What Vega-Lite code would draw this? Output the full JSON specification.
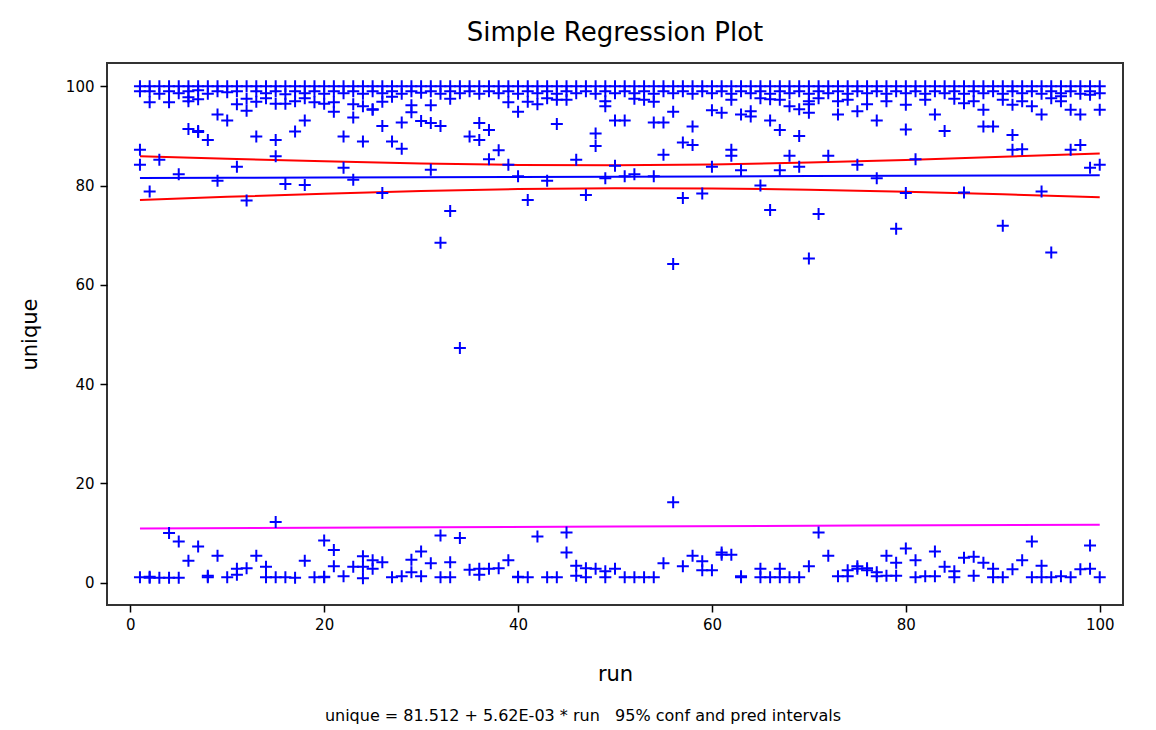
{
"$schema": "https://vega.github.io/schema/vega-lite/v6.json",
"width": 1016, "height": 542,
"autosize": "none",
"padding": {"left": 107, "top": 63, "right": 33, "bottom": 125},
"background": "white",
"title": {"text": "Simple Regression Plot", "font": "DejaVu Sans", "fontSize": 26, "fontWeight": "normal", "color": "black", "anchor": "middle", "frame": "group", "offset": 17},
"config": {
  "view": {"stroke": "#333333", "strokeWidth": 2},
  "axis": {"domain": false, "grid": false, "tickSize": 7, "tickColor": "black", "tickWidth": 1.5, "labelFont": "DejaVu Sans", "labelFontSize": 15, "labelColor": "black", "titleFont": "DejaVu Sans", "titleFontSize": 21, "titleFontWeight": "normal", "titleColor": "black", "labelFlush": false}
},
"datasets": {
  "lines": [
    {"r":1,"v":81.52,"s":"fit"},{"r":10,"v":81.57,"s":"fit"},{"r":20,"v":81.62,"s":"fit"},{"r":30,"v":81.68,"s":"fit"},{"r":40,"v":81.74,"s":"fit"},{"r":50,"v":81.79,"s":"fit"},{"r":60,"v":81.85,"s":"fit"},{"r":70,"v":81.91,"s":"fit"},{"r":80,"v":81.96,"s":"fit"},{"r":90,"v":82.02,"s":"fit"},{"r":100,"v":82.07,"s":"fit"},
    {"r":1,"v":85.92,"s":"ucl"},{"r":10,"v":85.41,"s":"ucl"},{"r":20,"v":84.88,"s":"ucl"},{"r":30,"v":84.46,"s":"ucl"},{"r":40,"v":84.17,"s":"ucl"},{"r":50,"v":84.09,"s":"ucl"},{"r":60,"v":84.26,"s":"ucl"},{"r":70,"v":84.64,"s":"ucl"},{"r":80,"v":85.17,"s":"ucl"},{"r":90,"v":85.80,"s":"ucl"},{"r":100,"v":86.47,"s":"ucl"},
    {"r":1,"v":77.12,"s":"lcl"},{"r":10,"v":77.73,"s":"lcl"},{"r":20,"v":78.36,"s":"lcl"},{"r":30,"v":78.90,"s":"lcl"},{"r":40,"v":79.31,"s":"lcl"},{"r":50,"v":79.49,"s":"lcl"},{"r":60,"v":79.44,"s":"lcl"},{"r":70,"v":79.18,"s":"lcl"},{"r":80,"v":78.75,"s":"lcl"},{"r":90,"v":78.24,"s":"lcl"},{"r":100,"v":77.67,"s":"lcl"},
    {"r":1,"v":10.9,"s":"lpi"},{"r":25,"v":11.1,"s":"lpi"},{"r":50,"v":11.3,"s":"lpi"},{"r":75,"v":11.5,"s":"lpi"},{"r":100,"v":11.65,"s":"lpi"}
  ],
  "pts": [
    {"r":1,"u":100},{"r":1,"u":99},{"r":1,"u":87.2},{"r":1,"u":84.2},{"r":1,"u":1.1},
    {"r":2,"u":100},{"r":2,"u":99},{"r":2,"u":96.8},{"r":2,"u":78.8},{"r":2,"u":1},{"r":2,"u":1.2},
    {"r":3,"u":100},{"r":3,"u":98.5},{"r":3,"u":85.2},{"r":3,"u":1},
    {"r":4,"u":100},{"r":4,"u":99},{"r":4,"u":96.8},{"r":4,"u":10},{"r":4,"u":1},
    {"r":5,"u":100},{"r":5,"u":98.6},{"r":5,"u":82.3},{"r":5,"u":8.3},{"r":5,"u":1},
    {"r":6,"u":100},{"r":6,"u":99},{"r":6,"u":97},{"r":6,"u":97.8},{"r":6,"u":91.4},{"r":6,"u":4.4},
    {"r":7,"u":100},{"r":7,"u":99.2},{"r":7,"u":97.4},{"r":7,"u":91},{"r":7,"u":90.8},{"r":7,"u":7.3},
    {"r":8,"u":100},{"r":8,"u":98.5},{"r":8,"u":89.2},{"r":8,"u":1.1},{"r":8,"u":1.4},
    {"r":9,"u":100},{"r":9,"u":99},{"r":9,"u":94.3},{"r":9,"u":81},{"r":9,"u":5.4},
    {"r":10,"u":100},{"r":10,"u":98.8},{"r":10,"u":93.1},{"r":10,"u":1.1},
    {"r":11,"u":100},{"r":11,"u":99},{"r":11,"u":96.4},{"r":11,"u":83.8},{"r":11,"u":1.6},{"r":11,"u":2.8},
    {"r":12,"u":100},{"r":12,"u":97.5},{"r":12,"u":95.1},{"r":12,"u":77},{"r":12,"u":2.9},
    {"r":13,"u":100},{"r":13,"u":99},{"r":13,"u":96.9},{"r":13,"u":89.9},{"r":13,"u":5.4},
    {"r":14,"u":100},{"r":14,"u":98.6},{"r":14,"u":97.6},{"r":14,"u":1.1},{"r":14,"u":3.2},
    {"r":15,"u":100},{"r":15,"u":99},{"r":15,"u":96.5},{"r":15,"u":89.2},{"r":15,"u":85.9},{"r":15,"u":12.2},{"r":15,"u":1.1},
    {"r":16,"u":100},{"r":16,"u":98.4},{"r":16,"u":96.5},{"r":16,"u":80.3},{"r":16,"u":1.1},
    {"r":17,"u":100},{"r":17,"u":99},{"r":17,"u":97},{"r":17,"u":90.9},{"r":17,"u":1},
    {"r":18,"u":100},{"r":18,"u":98.6},{"r":18,"u":97.6},{"r":18,"u":93.1},{"r":18,"u":80.1},{"r":18,"u":4.4},
    {"r":19,"u":100},{"r":19,"u":99},{"r":19,"u":96.8},{"r":19,"u":1.1},
    {"r":20,"u":100},{"r":20,"u":98.5},{"r":20,"u":96.5},{"r":20,"u":8.5},{"r":20,"u":1.1},{"r":20,"u":1.2},
    {"r":21,"u":100},{"r":21,"u":99},{"r":21,"u":96.8},{"r":21,"u":94.9},{"r":21,"u":6.6},{"r":21,"u":3.3},
    {"r":22,"u":100},{"r":22,"u":98.6},{"r":22,"u":89.9},{"r":22,"u":83.6},{"r":22,"u":1.3},
    {"r":23,"u":100},{"r":23,"u":99},{"r":23,"u":96.4},{"r":23,"u":93.7},{"r":23,"u":81.2},{"r":23,"u":3.2},
    {"r":24,"u":100},{"r":24,"u":98.5},{"r":24,"u":96},{"r":24,"u":88.9},{"r":24,"u":5.3},{"r":24,"u":3.2},{"r":24,"u":0.9},
    {"r":25,"u":100},{"r":25,"u":99},{"r":25,"u":95.4},{"r":25,"u":95.3},{"r":25,"u":4.5},{"r":25,"u":2.8},
    {"r":26,"u":100},{"r":26,"u":98.6},{"r":26,"u":96.9},{"r":26,"u":92},{"r":26,"u":78.5},{"r":26,"u":4.1},
    {"r":27,"u":100},{"r":27,"u":99},{"r":27,"u":97.9},{"r":27,"u":88.9},{"r":27,"u":1.1},
    {"r":28,"u":100},{"r":28,"u":98.5},{"r":28,"u":92.7},{"r":28,"u":87.4},{"r":28,"u":1.3},
    {"r":29,"u":100},{"r":29,"u":99},{"r":29,"u":96.2},{"r":29,"u":94.8},{"r":29,"u":4.6},{"r":29,"u":2.1},
    {"r":30,"u":100},{"r":30,"u":98.7},{"r":30,"u":93},{"r":30,"u":6.3},{"r":30,"u":1.3},
    {"r":31,"u":100},{"r":31,"u":99},{"r":31,"u":96.2},{"r":31,"u":92.6},{"r":31,"u":83.2},{"r":31,"u":3.9},
    {"r":32,"u":100},{"r":32,"u":98.5},{"r":32,"u":92},{"r":32,"u":68.5},{"r":32,"u":9.5},{"r":32,"u":1.1},
    {"r":33,"u":100},{"r":33,"u":99},{"r":33,"u":97.5},{"r":33,"u":74.9},{"r":33,"u":4.1},{"r":33,"u":1.1},
    {"r":34,"u":100},{"r":34,"u":98.6},{"r":34,"u":47.3},{"r":34,"u":9},
    {"r":35,"u":100},{"r":35,"u":99},{"r":35,"u":89.9},{"r":35,"u":2.6},
    {"r":36,"u":100},{"r":36,"u":98.5},{"r":36,"u":92.6},{"r":36,"u":89.2},{"r":36,"u":2.8},{"r":36,"u":1.6},
    {"r":37,"u":100},{"r":37,"u":99},{"r":37,"u":91.2},{"r":37,"u":85.3},{"r":37,"u":2.8},
    {"r":38,"u":100},{"r":38,"u":98.6},{"r":38,"u":87.1},{"r":38,"u":2.9},
    {"r":39,"u":100},{"r":39,"u":99},{"r":39,"u":96.8},{"r":39,"u":84.2},{"r":39,"u":4.5},
    {"r":40,"u":100},{"r":40,"u":98.5},{"r":40,"u":94.9},{"r":40,"u":81.9},{"r":40,"u":1.1},{"r":40,"u":1.2},
    {"r":41,"u":100},{"r":41,"u":99},{"r":41,"u":96.9},{"r":41,"u":77.1},{"r":41,"u":1.1},
    {"r":42,"u":100},{"r":42,"u":98.6},{"r":42,"u":96.4},{"r":42,"u":9.3},
    {"r":43,"u":100},{"r":43,"u":99},{"r":43,"u":97.6},{"r":43,"u":81},{"r":43,"u":1.1},
    {"r":44,"u":100},{"r":44,"u":98.5},{"r":44,"u":97.3},{"r":44,"u":92.4},{"r":44,"u":1.1},
    {"r":45,"u":100},{"r":45,"u":99},{"r":45,"u":97.3},{"r":45,"u":10.1},{"r":45,"u":6.1},
    {"r":46,"u":100},{"r":46,"u":98.6},{"r":46,"u":85.2},{"r":46,"u":3.4},{"r":46,"u":1.4},
    {"r":47,"u":100},{"r":47,"u":99},{"r":47,"u":78.1},{"r":47,"u":2.9},{"r":47,"u":1.1},
    {"r":48,"u":100},{"r":48,"u":98.5},{"r":48,"u":90.5},{"r":48,"u":88},{"r":48,"u":2.8},
    {"r":49,"u":100},{"r":49,"u":99},{"r":49,"u":97},{"r":49,"u":96},{"r":49,"u":81.5},{"r":49,"u":2.3},{"r":49,"u":1.1},
    {"r":50,"u":100},{"r":50,"u":98.6},{"r":50,"u":93.1},{"r":50,"u":84},{"r":50,"u":2.8},
    {"r":51,"u":100},{"r":51,"u":99},{"r":51,"u":93.1},{"r":51,"u":81.9},{"r":51,"u":1.1},
    {"r":52,"u":100},{"r":52,"u":98.6},{"r":52,"u":97.5},{"r":52,"u":82.3},{"r":52,"u":1.1},
    {"r":53,"u":100},{"r":53,"u":99},{"r":53,"u":97.3},{"r":53,"u":1.1},
    {"r":54,"u":100},{"r":54,"u":98.5},{"r":54,"u":96.9},{"r":54,"u":92.7},{"r":54,"u":81.9},{"r":54,"u":1.1},
    {"r":55,"u":100},{"r":55,"u":99},{"r":55,"u":92.7},{"r":55,"u":86.2},{"r":55,"u":3.9},
    {"r":56,"u":100},{"r":56,"u":98.6},{"r":56,"u":94.9},{"r":56,"u":64.2},{"r":56,"u":16.2},
    {"r":57,"u":100},{"r":57,"u":99},{"r":57,"u":88.7},{"r":57,"u":77.5},{"r":57,"u":3.3},
    {"r":58,"u":100},{"r":58,"u":98.5},{"r":58,"u":91.9},{"r":58,"u":88.2},{"r":58,"u":5.4},
    {"r":59,"u":100},{"r":59,"u":99},{"r":59,"u":78.4},{"r":59,"u":4.3},{"r":59,"u":2.5},
    {"r":60,"u":100},{"r":60,"u":98.6},{"r":60,"u":95.2},{"r":60,"u":83.8},{"r":60,"u":2.5},
    {"r":61,"u":100},{"r":61,"u":99},{"r":61,"u":94.7},{"r":61,"u":5.6},{"r":61,"u":6.1},
    {"r":62,"u":100},{"r":62,"u":98.5},{"r":62,"u":97.3},{"r":62,"u":87.2},{"r":62,"u":86},{"r":62,"u":5.6},
    {"r":63,"u":100},{"r":63,"u":99},{"r":63,"u":94.3},{"r":63,"u":83.1},{"r":63,"u":1.3},{"r":63,"u":1.1},
    {"r":64,"u":100},{"r":64,"u":98.6},{"r":64,"u":95},{"r":64,"u":93.9},
    {"r":65,"u":100},{"r":65,"u":99},{"r":65,"u":97.6},{"r":65,"u":80},{"r":65,"u":2.8},{"r":65,"u":1.1},
    {"r":66,"u":100},{"r":66,"u":98.5},{"r":66,"u":97.4},{"r":66,"u":93.1},{"r":66,"u":75.1},{"r":66,"u":1.1},
    {"r":67,"u":100},{"r":67,"u":99},{"r":67,"u":97.3},{"r":67,"u":91.2},{"r":67,"u":83.1},{"r":67,"u":2.8},{"r":67,"u":1.1},
    {"r":68,"u":100},{"r":68,"u":98.6},{"r":68,"u":96},{"r":68,"u":86},{"r":68,"u":1.1},
    {"r":69,"u":100},{"r":69,"u":99},{"r":69,"u":95.4},{"r":69,"u":90},{"r":69,"u":83.8},{"r":69,"u":1.1},
    {"r":70,"u":100},{"r":70,"u":98.5},{"r":70,"u":97},{"r":70,"u":96.4},{"r":70,"u":94.7},{"r":70,"u":65.3},{"r":70,"u":3.3},
    {"r":71,"u":100},{"r":71,"u":99},{"r":71,"u":97.6},{"r":71,"u":74.3},{"r":71,"u":10.1},
    {"r":72,"u":100},{"r":72,"u":98.6},{"r":72,"u":86},{"r":72,"u":5.4},
    {"r":73,"u":100},{"r":73,"u":99},{"r":73,"u":97},{"r":73,"u":94.3},{"r":73,"u":1.3},
    {"r":74,"u":100},{"r":74,"u":98.5},{"r":74,"u":97.3},{"r":74,"u":1.3},{"r":74,"u":2.5},
    {"r":75,"u":100},{"r":75,"u":99},{"r":75,"u":95},{"r":75,"u":84.2},{"r":75,"u":3.3},{"r":75,"u":2.8},
    {"r":76,"u":100},{"r":76,"u":98.6},{"r":76,"u":96.4},{"r":76,"u":2.9},{"r":76,"u":2.5},
    {"r":77,"u":100},{"r":77,"u":99},{"r":77,"u":93.1},{"r":77,"u":81.5},{"r":77,"u":2.1},{"r":77,"u":1.3},
    {"r":78,"u":100},{"r":78,"u":98.5},{"r":78,"u":97},{"r":78,"u":5.4},{"r":78,"u":1.4},
    {"r":79,"u":100},{"r":79,"u":99},{"r":79,"u":71.3},{"r":79,"u":4},{"r":79,"u":1.4},
    {"r":80,"u":100},{"r":80,"u":98.6},{"r":80,"u":96.3},{"r":80,"u":91.3},{"r":80,"u":78.5},{"r":80,"u":6.9},
    {"r":81,"u":100},{"r":81,"u":99},{"r":81,"u":85.3},{"r":81,"u":4.5},{"r":81,"u":1.1},
    {"r":82,"u":100},{"r":82,"u":98.5},{"r":82,"u":97.3},{"r":82,"u":1.3},
    {"r":83,"u":100},{"r":83,"u":99},{"r":83,"u":94.3},{"r":83,"u":6.3},{"r":83,"u":1.3},
    {"r":84,"u":100},{"r":84,"u":98.6},{"r":84,"u":91},{"r":84,"u":3.2},
    {"r":85,"u":100},{"r":85,"u":99},{"r":85,"u":97.5},{"r":85,"u":2.3},{"r":85,"u":1.1},
    {"r":86,"u":100},{"r":86,"u":98.5},{"r":86,"u":96.6},{"r":86,"u":78.6},{"r":86,"u":5},
    {"r":87,"u":100},{"r":87,"u":99},{"r":87,"u":97},{"r":87,"u":5.2},{"r":87,"u":1.4},
    {"r":88,"u":100},{"r":88,"u":98.6},{"r":88,"u":95.3},{"r":88,"u":91.9},{"r":88,"u":4},
    {"r":89,"u":100},{"r":89,"u":99},{"r":89,"u":91.9},{"r":89,"u":2.8},{"r":89,"u":1.1},
    {"r":90,"u":100},{"r":90,"u":98.5},{"r":90,"u":97.3},{"r":90,"u":71.9},{"r":90,"u":1.1},
    {"r":91,"u":100},{"r":91,"u":99},{"r":91,"u":96.3},{"r":91,"u":90.2},{"r":91,"u":87.2},{"r":91,"u":2.7},
    {"r":92,"u":100},{"r":92,"u":98.6},{"r":92,"u":97},{"r":92,"u":87.3},{"r":92,"u":4.5},
    {"r":93,"u":100},{"r":93,"u":99},{"r":93,"u":96},{"r":93,"u":8.3},{"r":93,"u":1.1},
    {"r":94,"u":100},{"r":94,"u":98.5},{"r":94,"u":94.3},{"r":94,"u":78.8},{"r":94,"u":3.4},{"r":94,"u":1.1},
    {"r":95,"u":100},{"r":95,"u":99},{"r":95,"u":97.6},{"r":95,"u":66.5},{"r":95,"u":1.1},
    {"r":96,"u":100},{"r":96,"u":98.6},{"r":96,"u":98},{"r":96,"u":97},{"r":96,"u":1.3},
    {"r":97,"u":100},{"r":97,"u":99},{"r":97,"u":95.3},{"r":97,"u":87.2},{"r":97,"u":1.1},
    {"r":98,"u":100},{"r":98,"u":98.5},{"r":98,"u":94.3},{"r":98,"u":88.2},{"r":98,"u":2.7},
    {"r":99,"u":100},{"r":99,"u":99},{"r":99,"u":98.3},{"r":99,"u":83.6},{"r":99,"u":7.5},{"r":99,"u":2.8},
    {"r":100,"u":100},{"r":100,"u":98.6},{"r":100,"u":95.3},{"r":100,"u":84.2},{"r":100,"u":1.1}
  ]
},
"layer": [
  {"data": {"name": "lines"}, "mark": {"type": "line", "strokeWidth": 2},
   "encoding": {
     "x": {"field": "r", "type": "quantitative", "scale": {"domain": [-2.4, 102.4], "nice": false, "zero": false},
           "axis": {"values": [0, 20, 40, 60, 80, 100], "title": "run", "labelPadding": 5, "titlePadding": 31}},
     "y": {"field": "v", "type": "quantitative", "scale": {"domain": [-4.5, 104.7], "nice": false, "zero": false},
           "axis": {"values": [0, 20, 40, 60, 80, 100], "title": "unique", "labelPadding": 6, "titlePadding": 25}},
     "color": {"field": "s", "type": "nominal", "scale": {"domain": ["fit", "ucl", "lcl", "lpi"], "range": ["#0000FF", "#FF0000", "#FF0000", "#FF00FF"]}, "legend": null}}},
  {"data": {"name": "pts"}, "mark": {"type": "point", "shape": "M-1,0L1,0M0,-1L0,1", "size": 144, "filled": false, "stroke": "#0000FF", "strokeWidth": 2, "opacity": 1},
   "encoding": {
     "x": {"field": "r", "type": "quantitative"},
     "y": {"field": "u", "type": "quantitative"}}},
  {"data": {"values": [{"t": "unique = 81.512 + 5.62E-03 * run \u00a0 95% conf and pred intervals", "px": 46.7, "py": -26.8}]},
   "mark": {"type": "text", "font": "DejaVu Sans", "fontSize": 16, "baseline": "middle", "align": "center", "color": "black", "clip": false},
   "encoding": {"text": {"field": "t"}, "x": {"field": "px", "type": "quantitative"}, "y": {"field": "py", "type": "quantitative"}}}
]
}
